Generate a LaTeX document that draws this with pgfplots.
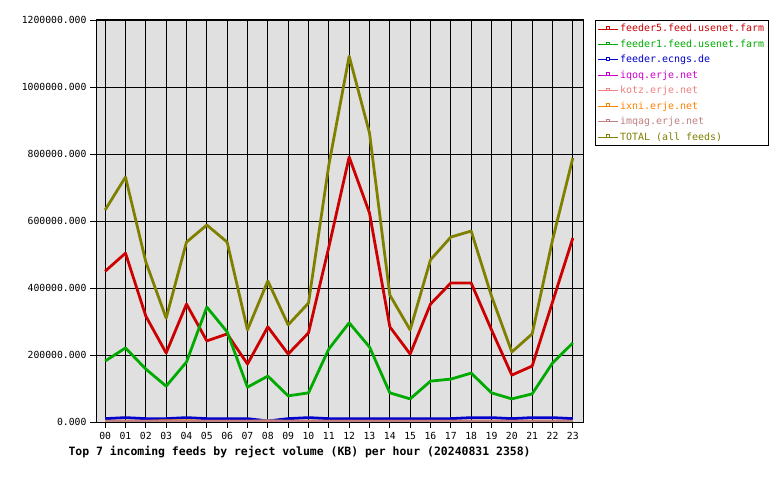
\documentclass[border=0pt]{standalone}
\usepackage{pgfplots}
\pgfplotsset{compat=1.18}
\usepackage{fontspec}
\setmonofont{DejaVu Sans Mono}
\definecolor{cfa}{RGB}{204,0,0}
\definecolor{cfb}{RGB}{0,170,0}
\definecolor{cfc}{RGB}{0,0,204}
\definecolor{cfd}{RGB}{204,0,204}
\definecolor{cfe}{RGB}{240,128,128}
\definecolor{cff}{RGB}{255,128,0}
\definecolor{cfg}{RGB}{192,128,128}
\definecolor{cfh}{RGB}{128,128,0}
\definecolor{bgg}{RGB}{224,224,224}
\pgfplotsset{mylegend/.style={legend image code/.code={\draw[draw=#1, line width=0.8pt] (0bp,0bp) -- (20bp,0bp);
    \draw[draw=#1, line width=0.6pt, fill=white] (8.5bp,0bp) rectangle (11.5bp,2.5bp);}}}
\begin{document}
\begin{tikzpicture}
\path[use as bounding box] (0,0) rectangle (780bp,480bp);
\begin{axis}[
  at={(96bp,58bp)}, anchor=south west,
  scale only axis, width=487bp, height=402bp,
  xmin=-0.45, xmax=23.5, ymin=0, ymax=1200000,
  axis background/.style={fill=bgg},
  axis line style={black, line width=1pt},
  grid=major, grid style={black, line width=0.8pt},
  tick align=outside, tick pos=left, major tick length=6bp,
  tick style={black, line width=0.8pt},
  xtick={0,...,23},
  xticklabels={00,01,02,03,04,05,06,07,08,09,10,11,12,13,14,15,16,17,18,19,20,21,22,23},
  ytick={0,200000,400000,600000,800000,1000000,1200000},
  yticklabels={0.000,200000.000,400000.000,600000.000,800000.000,1000000.000,1200000.000},
  ticklabel style={font=\ttfamily\fontsize{9.8}{10}\selectfont, text=black},
  xticklabel style={yshift=-1bp},
  scaled y ticks=false,
  legend style={at={(1.0246,1)}, anchor=north west, draw=black, line width=0.8pt, fill=white,
    font=\ttfamily\fontsize{10}{11}\selectfont, row sep=2.4bp, inner sep=2bp,
    cells={anchor=west}},
  legend cell align=left,
  every axis plot/.append style={line width=2.8pt, line join=round},
]
\addplot[cfa, mylegend=cfa] coordinates {(0,450000)(1,504000)(2,316000)(3,206000)(4,352000)(5,242000)(6,263000)(7,173000)(8,284000)(9,203000)(10,266000)(11,522000)(12,791000)(13,624000)(14,284000)(15,203000)(16,352000)(17,415000)(18,415000)(19,275000)(20,140000)(21,167000)(22,358000)(23,549000)};
\addlegendentry{\textcolor{cfa}{feeder5.feed.usenet.farm}}
\addplot[cfb, mylegend=cfb] coordinates {(0,182000)(1,221000)(2,158000)(3,107000)(4,179000)(5,343000)(6,269000)(7,104000)(8,137000)(9,78000)(10,87000)(11,218000)(12,296000)(13,224000)(14,87000)(15,69000)(16,122000)(17,128000)(18,146000)(19,87000)(20,69000)(21,84000)(22,176000)(23,236000)};
\addlegendentry{\textcolor{cfb}{feeder1.feed.usenet.farm}}
\addplot[cfc, mylegend=cfc] coordinates {(0,10000)(1,13000)(2,10000)(3,10000)(4,13000)(5,10000)(6,10000)(7,10000)(8,3000)(9,10000)(10,13000)(11,10000)(12,10000)(13,10000)(14,10000)(15,10000)(16,10000)(17,10000)(18,13000)(19,13000)(20,10000)(21,13000)(22,13000)(23,10000)};
\addlegendentry{\textcolor{cfc}{feeder.ecngs.de}}
\addplot[cfd, mylegend=cfd] coordinates {(0,2000)(1,2000)(2,2000)(3,2000)(4,2000)(5,2000)(6,2000)(7,2000)(8,2000)(9,2000)(10,2000)(11,2000)(12,2000)(13,2000)(14,2000)(15,2000)(16,2000)(17,2000)(18,2000)(19,2000)(20,2000)(21,2000)(22,2000)(23,2000)};
\addlegendentry{\textcolor{cfd}{iqoq.erje.net}}
\addplot[cfe, mylegend=cfe] coordinates {(0,2000)(1,2000)(2,2000)(3,2000)(4,2000)(5,2000)(6,2000)(7,2000)(8,2000)(9,2000)(10,2000)(11,2000)(12,2000)(13,2000)(14,2000)(15,2000)(16,2000)(17,2000)(18,2000)(19,2000)(20,2000)(21,2000)(22,2000)(23,2000)};
\addlegendentry{\textcolor{cfe}{kotz.erje.net}}
\addplot[cff, mylegend=cff] coordinates {(0,2000)(1,2000)(2,2000)(3,4000)(4,4000)(5,2000)(6,2000)(7,2000)(8,2000)(9,2000)(10,2000)(11,2000)(12,2000)(13,2000)(14,2000)(15,2000)(16,2000)(17,2000)(18,2000)(19,2000)(20,2000)(21,2000)(22,2000)(23,2000)};
\addlegendentry{\textcolor{cff}{ixni.erje.net}}
\addplot[cfg, mylegend=cfg] coordinates {(0,2000)(1,2000)(2,2000)(3,2000)(4,2000)(5,2000)(6,2000)(7,2000)(8,4000)(9,2000)(10,2000)(11,2000)(12,2000)(13,2000)(14,2000)(15,2000)(16,2000)(17,2000)(18,2000)(19,2000)(20,2000)(21,2000)(22,2000)(23,2000)};
\addlegendentry{\textcolor{cfg}{imqag.erje.net}}
\addplot[cfh, mylegend=cfh] coordinates {(0,633000)(1,731000)(2,478000)(3,310000)(4,537000)(5,588000)(6,537000)(7,275000)(8,421000)(9,290000)(10,355000)(11,767000)(12,1092000)(13,863000)(14,379000)(15,275000)(16,484000)(17,552000)(18,570000)(19,376000)(20,209000)(21,263000)(22,543000)(23,788000)};
\addlegendentry{\textcolor{cfh}{TOTAL (all feeds)}}
\end{axis}
\node[anchor=west, font=\ttfamily\bfseries\fontsize{11.5}{12}\selectfont] at (65bp,28bp) {Top 7 incoming feeds by reject volume (KB) per hour (20240831 2358)};
\end{tikzpicture}
\end{document}
